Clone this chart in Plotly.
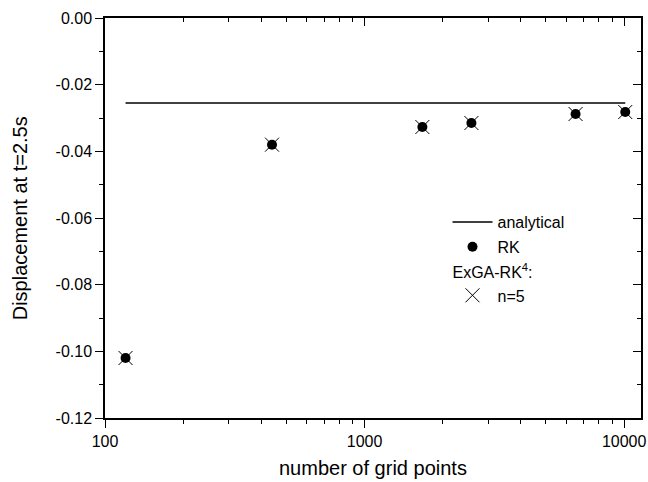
import plotly.graph_objects as go

# Data
grid_points = [120, 440, 1670, 2580, 6500, 10100]
rk_values = [-0.102, -0.038, -0.0327, -0.0315, -0.0288, -0.0282]
exga_n5_values = [-0.102, -0.038, -0.0327, -0.0315, -0.0288, -0.0282]
analytical_x = [120, 10100]
analytical_y = [-0.0255, -0.0255]

x_tickvals = [100, 1000, 10000]
x_ticktext = ["100", "1000", "10000"]
y_tickvals = [0.0, -0.02, -0.04, -0.06, -0.08, -0.10, -0.12]
y_ticktext = ["0.00", "-0.02", "-0.04", "-0.06", "-0.08", "-0.10", "-0.12"]

x_range = [2, 4.065]
y_range = [-0.12, 0.0]

FONT = "Liberation Sans, Arial, sans-serif"

fig = go.Figure()

fig.add_trace(go.Scatter(
    x=analytical_x, y=analytical_y, mode="lines", name="analytical",
    line=dict(color="black", width=1.5),
))
fig.add_trace(go.Scatter(
    x=grid_points, y=rk_values, mode="markers", name="RK",
    marker=dict(symbol="circle", size=10, color="black"),
))
fig.add_trace(go.Scatter(
    x=grid_points, y=exga_n5_values, mode="markers", name="n=5",
    legendgroup="exga",
    legendgrouptitle=dict(text="ExGA-RK<sup>4</sup>:", font=dict(size=16, family=FONT, color="black")),
    marker=dict(symbol="x-thin-open", size=14, color="black", line=dict(width=1, color="black")),
))
# invisible trace to anchor mirrored axes
fig.add_trace(go.Scatter(
    x=grid_points, y=rk_values, xaxis="x2", yaxis="y2", mode="markers",
    marker=dict(opacity=0), showlegend=False, hoverinfo="skip",
))

TW = 1.3
fig.update_layout(
    width=648, height=482,
    margin=dict(l=105, r=7, t=18, b=64, autoexpand=False),
    paper_bgcolor="white", plot_bgcolor="white",
    font=dict(family=FONT, size=16, color="black"),
    showlegend=True,
    legend=dict(
        x=0.639, y=0.5325, xanchor="left", yanchor="top",
        bgcolor="rgba(0,0,0,0)", borderwidth=0,
        traceorder="grouped", tracegroupgap=1, itemwidth=40,
        font=dict(size=16, family=FONT, color="black"),
    ),
    xaxis=dict(
        type="log", range=x_range, automargin=False,
        tickvals=x_tickvals, ticktext=x_ticktext, ticklabeloverflow="allow",
        ticks="outside", ticklen=8, tickwidth=TW, tickcolor="black",
        showline=True, linecolor="black", linewidth=1.5,
        showgrid=False, zeroline=False,
        minor=dict(ticks="outside", ticklen=4, tickwidth=TW, tickcolor="black", dtick="D1", showgrid=False),
        tickfont=dict(size=16, family=FONT),
    ),
    yaxis=dict(
        range=y_range, automargin=False,
        tickvals=y_tickvals, ticktext=y_ticktext, ticklabeloverflow="allow",
        ticks="outside", ticklen=8, tickwidth=TW, tickcolor="black",
        showline=True, linecolor="black", linewidth=1.5,
        showgrid=False, zeroline=False,
        minor=dict(ticks="outside", ticklen=4, tickwidth=TW, tickcolor="black", dtick=0.01, showgrid=False),
        tickfont=dict(size=16, family=FONT),
    ),
    xaxis2=dict(
        type="log", range=x_range, overlaying="x", side="top", anchor="y", automargin=False,
        tickvals=x_tickvals, showticklabels=False,
        ticks="inside", ticklen=8, tickwidth=TW, tickcolor="black",
        showline=True, linecolor="black", linewidth=1.5,
        showgrid=False, zeroline=False,
        minor=dict(ticks="inside", ticklen=4, tickwidth=TW, tickcolor="black", dtick="D1", showgrid=False),
    ),
    yaxis2=dict(
        range=y_range, overlaying="y", side="right", anchor="x", automargin=False,
        tickvals=y_tickvals, showticklabels=False,
        ticks="inside", ticklen=8, tickwidth=TW, tickcolor="black",
        showline=True, linecolor="black", linewidth=1.5,
        showgrid=False, zeroline=False,
        minor=dict(ticks="inside", ticklen=4, tickwidth=TW, tickcolor="black", dtick=0.01, showgrid=False),
    ),
    annotations=[
        dict(text="number of grid points", xref="paper", yref="paper",
             x=0.5, y=-0.125, xanchor="center", yanchor="middle", showarrow=False,
             font=dict(size=20, family=FONT, color="black")),
        dict(text="Displacement at t=2.5s", xref="paper", yref="paper",
             x=-0.158, y=0.5, xanchor="center", yanchor="middle", showarrow=False,
             textangle=-90, font=dict(size=20, family=FONT, color="black")),
    ],
)

fig.write_html(
    "out.html",
    config={"displayModeBar": False},
    post_script="document.body.style.margin='0px'; document.body.style.overflow='hidden';",
)
